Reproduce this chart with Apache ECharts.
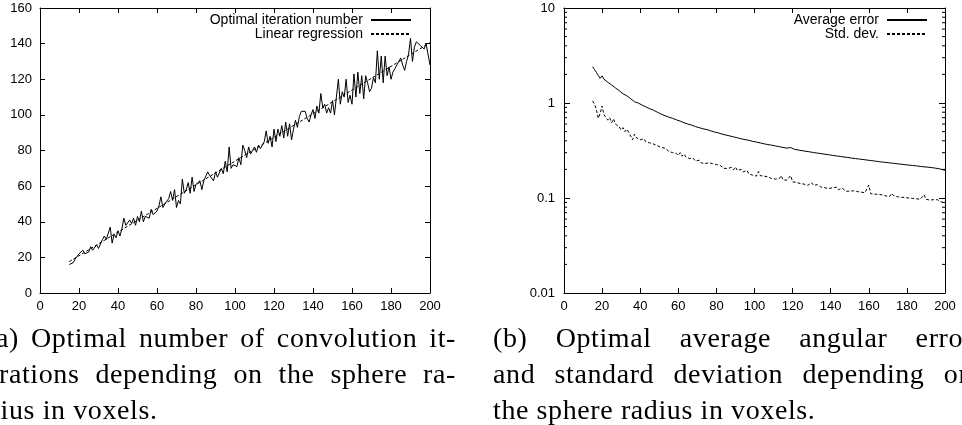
<!DOCTYPE html>
<html>
<head>
<meta charset="utf-8">
<script src="https://cdn.jsdelivr.net/npm/echarts@6/dist/echarts.min.js"></script>
<style>
html,body{margin:0;padding:0;background:#fff;overflow:hidden;}
#wrap{position:relative;width:962px;height:425px;overflow:hidden;}
#chart{position:absolute;left:0;top:0;width:962px;height:425px;}
.cap{position:absolute;font-family:"Liberation Serif","DejaVu Serif",serif;font-size:28px;letter-spacing:0.6px;line-height:36px;color:#000;}
.cap div{white-space:normal;}
.cap .j{text-align:justify;text-align-last:justify;}
</style>
</head>
<body>
<div id="wrap">
<div id="chart"></div>
<div class="cap" style="left:-14px;top:320px;width:470px;">
  <div class="j">(a) Optimal number of convolution it-</div>
  <div class="j">erations depending on the sphere ra-</div>
  <div>dius in voxels.</div>
</div>
<div class="cap" style="left:493px;top:320px;width:480px;">
  <div class="j">(b) Optimal average angular error</div>
  <div class="j">and standard deviation depending on</div>
  <div>the sphere radius in voxels.</div>
</div>
</div>
<script>
// ---- data ----
const radiusStart = 15, radiusEnd = 200;
const xTicks = [0,20,40,60,80,100,120,140,160,180,200];
const iterTicks = [0,20,40,60,80,100,120,140,160];
const errTicks = [0.01,0.1,1,10];
const errMinorTicks = [0.02,0.03,0.04,0.05,0.06,0.07,0.08,0.09,0.2,0.3,0.4,0.5,0.6,0.7,0.8,0.9,2,3,4,5,6,7,8,9];

const optimalIterations = [
  16,16,17,19,20,22,21,24,22,21,
  23,26,24,25,27,25,26,30,32,30,
  29,37,28,33,31,35,32,36,42,38,
  37,41,39,42,38,43,40,46,40,43,
  44,42,47,44,45,46,49,54,48,50,
  51,53,57,52,58,48,52,50,64,56,
  58,62,56,65,57,61,60,63,58,63,
  62,68,66,67,63,68,65,66,70,67,
  74,68,82,70,72,73,71,76,72,83,
  80,76,82,78,80,82,79,83,81,80,
  85,91,84,88,82,92,85,92,88,94,
  87,96,88,95,86,92,97,93,99,102,
  103,102,98,96,100,103,98,105,101,112,
  104,106,101,104,101,108,100,110,120,106,
  113,110,120,107,111,106,123,110,124,112,
  122,109,122,118,113,115,121,118,136,120,
  133,118,133,122,127,120,124,126,128,130,
  132,128,125,130,134,143,130,138,141,140,
  139,138,137,140,140,128
];
const regressionX = [15, 200];
const regressionY = [17.6, 140.5];

const averageError = [
  2.41,2.25,2.1,1.95,1.82,1.93,1.78,1.7,1.65,1.6,
  1.55,1.5,1.44,1.4,1.35,1.3,1.25,1.26,1.19,1.15,
  1.11,1.07,1.03,1.01,1.0,0.97,0.95,0.93,0.91,0.89,
  0.87,0.855,0.84,0.82,0.8,0.78,0.765,0.75,0.735,0.72,
  0.71,0.70,0.69,0.68,0.665,0.65,0.645,0.63,0.62,0.61,
  0.60,0.59,0.585,0.575,0.565,0.56,0.55,0.545,0.535,0.53,
  0.525,0.515,0.51,0.505,0.495,0.49,0.485,0.478,0.47,0.465,
  0.46,0.455,0.45,0.445,0.44,0.438,0.43,0.425,0.42,0.418,
  0.412,0.41,0.405,0.40,0.395,0.39,0.388,0.385,0.38,0.378,
  0.372,0.37,0.365,0.362,0.36,0.356,0.353,0.35,0.347,0.352,
  0.34,0.338,0.335,0.332,0.34,0.327,0.325,0.322,0.32,0.318,
  0.315,0.313,0.31,0.308,0.306,0.304,0.301,0.3,0.297,0.295,
  0.293,0.291,0.289,0.287,0.285,0.283,0.281,0.279,0.277,0.276,
  0.274,0.272,0.27,0.268,0.267,0.265,0.263,0.262,0.26,0.258,
  0.257,0.255,0.254,0.252,0.251,0.253,0.248,0.246,0.245,0.244,
  0.242,0.241,0.239,0.238,0.237,0.236,0.234,0.233,0.232,0.231,
  0.229,0.228,0.227,0.226,0.224,0.223,0.222,0.221,0.22,0.219,
  0.218,0.216,0.215,0.214,0.213,0.212,0.211,0.21,0.209,0.208,
  0.206,0.205,0.203,0.201,0.198,0.196
];
const stdDev = [
  1.05,0.98,0.85,0.69,0.78,0.93,0.75,0.72,0.66,0.7,
  0.62,0.68,0.6,0.58,0.56,0.52,0.55,0.5,0.53,0.49,
  0.48,0.41,0.47,0.43,0.44,0.41,0.40,0.42,0.39,0.40,
  0.38,0.375,0.37,0.36,0.355,0.35,0.34,0.33,0.335,0.32,
  0.31,0.32,0.30,0.305,0.295,0.28,0.30,0.275,0.29,0.27,
  0.265,0.26,0.255,0.26,0.245,0.24,0.25,0.235,0.245,0.23,
  0.24,0.235,0.225,0.23,0.22,0.225,0.215,0.22,0.21,0.205,
  0.215,0.205,0.2,0.21,0.198,0.212,0.195,0.19,0.2,0.188,
  0.185,0.195,0.18,0.178,0.174,0.18,0.17,0.19,0.172,0.168,
  0.17,0.165,0.167,0.162,0.16,0.163,0.158,0.156,0.16,0.172,
  0.155,0.152,0.154,0.15,0.172,0.148,0.15,0.146,0.145,0.142,
  0.144,0.14,0.138,0.136,0.14,0.145,0.136,0.134,0.138,0.132,
  0.13,0.133,0.128,0.13,0.126,0.126,0.128,0.124,0.13,0.122,
  0.12,0.127,0.124,0.118,0.12,0.118,0.116,0.119,0.115,0.117,
  0.113,0.115,0.112,0.114,0.11,0.137,0.111,0.109,0.11,0.108,
  0.109,0.107,0.108,0.106,0.105,0.107,0.104,0.112,0.106,0.105,
  0.103,0.107,0.102,0.104,0.101,0.103,0.1,0.102,0.099,0.101,
  0.098,0.1,0.097,0.099,0.108,0.097,0.098,0.095,0.097,0.096,
  0.094,0.096,0.093,0.091,0.092,0.088
];

// ---- build ----
const radii = [];
for (let r = radiusStart; r <= radiusEnd; r++) radii.push(r);
const pairs = (ys) => ys.map((y, i) => [radii[i], y]);

const FONT = '"Liberation Sans", Arial, sans-serif';
const axisLine = {show:true, onZero:false, lineStyle:{color:'#000', width:1}};
const tickIn = {show:true, inside:true, length:5, lineStyle:{color:'#000', width:1}};
const lbl = {color:'#000', fontSize:13, fontFamily:FONT};

function xAx(grid, pos, showLabel) {
  return {type:'value', gridIndex:grid, position:pos, min:0, max:200, interval:20,
    axisLine:axisLine, axisTick:tickIn, splitLine:{show:false},
    axisLabel: showLabel ? Object.assign({margin:7}, lbl) : {show:false}};
}
function yAxLin(pos, showLabel) {
  return {type:'value', gridIndex:0, position:pos, min:0, max:160, interval:20,
    axisLine:axisLine, axisTick:tickIn, splitLine:{show:false},
    axisLabel: showLabel ? Object.assign({margin:8}, lbl) : {show:false}};
}
function yAxLog(pos, showLabel) {
  return {type:'log', logBase:10, gridIndex:1, position:pos, min:0.01, max:10,
    axisLine:axisLine, axisTick:Object.assign({}, tickIn, {length:6}), splitLine:{show:false},
    axisLabel: showLabel ? Object.assign({margin:9, formatter:(v)=>String(+v)}, lbl) : {show:false}};
}
function leg(name, right, top) {
  return {data:[name], right:right, top:top, orient:'vertical', align:'right', padding:0,
    itemWidth:40, itemHeight:2, itemGap:0, selectedMode:false,
    itemStyle:{opacity:0},
    textStyle:{color:'#000', fontSize:14, fontFamily:FONT, padding:[0,3,0,0]}};
}

const chart = echarts.init(document.getElementById('chart'), null, {renderer:'canvas'});
chart.setOption({
  backgroundColor:'#fff',
  animation:false,
  grid:[
    {left:40, top:8, width:390, height:285},
    {left:564, top:8, width:381, height:285}
  ],
  legend:[
    leg('Optimal iteration number', 550, 13),
    leg('Linear regression', 550, 27),
    leg('Average error', 34, 13),
    leg('Std. dev.', 34, 27)
  ],
  xAxis:[xAx(0,'bottom',true), xAx(0,'top',false), xAx(1,'bottom',true), xAx(1,'top',false)],
  yAxis:[yAxLin('left',true), yAxLin('right',false), yAxLog('left',true), yAxLog('right',false)],
  series:[
    {name:'Optimal iteration number', type:'line', xAxisIndex:0, yAxisIndex:0, data:pairs(optimalIterations),
      symbol:'none', showSymbol:false, lineStyle:{color:'#000', width:1}, itemStyle:{color:'#000'}},
    {name:'Linear regression', type:'line', xAxisIndex:0, yAxisIndex:0,
      data:regressionX.map((x,i)=>[x, regressionY[i]]),
      symbol:'none', showSymbol:false, lineStyle:{color:'#000', width:1, type:[3,2]}, itemStyle:{color:'#000'}},
    {name:'Average error', type:'line', xAxisIndex:2, yAxisIndex:2, data:pairs(averageError),
      symbol:'none', showSymbol:false, lineStyle:{color:'#000', width:1}, itemStyle:{color:'#000'}},
    {name:'Std. dev.', type:'line', xAxisIndex:2, yAxisIndex:2, data:pairs(stdDev),
      symbol:'none', showSymbol:false, lineStyle:{color:'#000', width:1, type:[3,2]}, itemStyle:{color:'#000'}},
    {type:'custom', xAxisIndex:2, yAxisIndex:2, silent:true, clip:false,
      data:errMinorTicks.map(v=>[v]),
      encode:{y:0},
      renderItem:function(params, api){
        const v = api.value(0);
        const a = api.coord([0, v]);
        const b = api.coord([200, v]);
        return {type:'group', children:[
          {type:'line', shape:{x1:a[0], y1:a[1], x2:a[0]+3, y2:a[1]}, style:{stroke:'#000', lineWidth:1}},
          {type:'line', shape:{x1:b[0], y1:b[1], x2:b[0]-3, y2:b[1]}, style:{stroke:'#000', lineWidth:1}}
        ]};
      }}
  ]
});
</script>
</body>
</html>
